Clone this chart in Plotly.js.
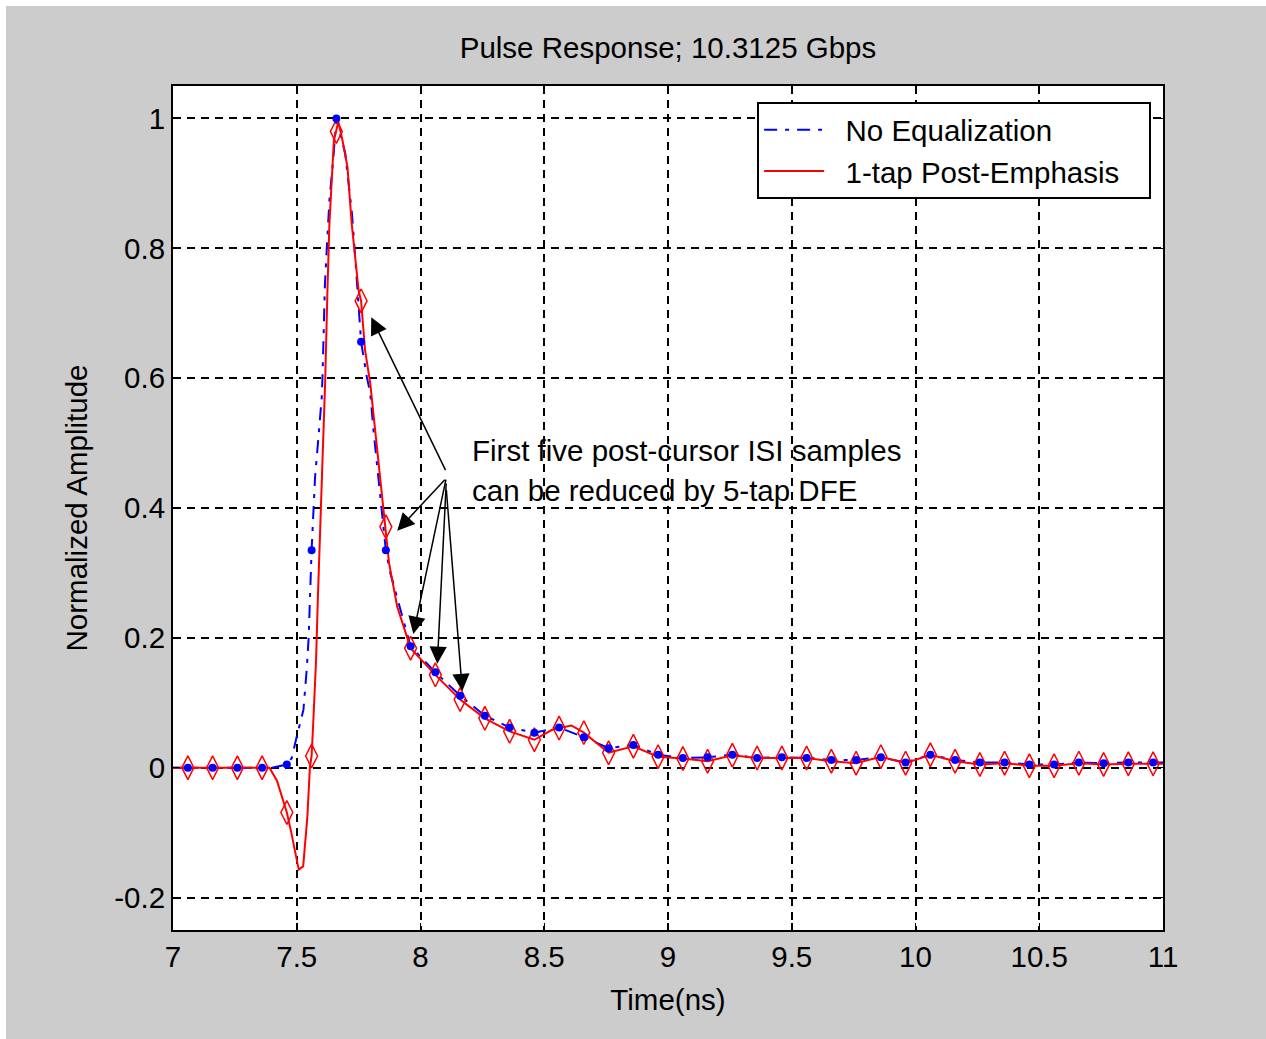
<!DOCTYPE html>
<html>
<head>
<meta charset="utf-8">
<script src="https://cdn.plot.ly/plotly-3.0.1.min.js"></script>
<style>
  html, body { margin: 0; padding: 0; background: #ffffff; }
  #chart { position: absolute; left: 6px; top: 6px; width: 1260px; height: 1033px; }
</style>
</head>
<body>
<div id="chart"></div>
<script>
// ---- Data ----
// Sample instants (ns), one per bit
var sampleTimes = [7.06,7.16,7.26,7.36,7.46,7.56,7.66,7.76,7.86,7.96,
                   8.06,8.16,8.26,8.36,8.46,8.56,8.66,8.76,8.86,8.96,
                   9.06,9.16,9.26,9.36,9.46,9.56,9.66,9.76,9.86,9.96,
                   10.06,10.16,10.26,10.36,10.46,10.56,10.66,10.76,10.86,10.96];
// No Equalization: sampled amplitudes (blue dots)
var noEqSamples = [0.0,0.0,0.0,0.0,0.005,0.335,1.0,0.656,0.335,0.187,
                   0.147,0.111,0.080,0.062,0.054,0.062,0.047,0.030,0.035,0.020,
                   0.015,0.016,0.020,0.015,0.016,0.015,0.012,0.012,0.016,0.008,
                   0.020,0.012,0.008,0.008,0.005,0.005,0.008,0.007,0.008,0.008];
// 1-tap Post-Emphasis: sampled amplitudes (red diamonds)
var postEmpSamples = [0.0,0.0,0.0,0.0,-0.069,0.018,0.980,0.719,0.371,0.184,
                      0.143,0.105,0.076,0.056,0.043,0.061,0.054,0.023,0.033,0.017,
                      0.014,0.010,0.019,0.015,0.015,0.015,0.010,0.007,0.017,0.007,
                      0.020,0.010,0.005,0.007,0.003,0.003,0.007,0.005,0.006,0.006];

// Continuous waveforms
var noEqTime = [7.00,7.40,7.46,7.48,7.50,7.527,7.54,7.548,7.56,7.574,7.588,7.601,7.604,7.608,7.614,7.621,7.632,7.648,7.66,
                7.696,7.723,7.736,7.75,7.76,7.783,7.797,7.81,7.83,7.86,7.878,7.96,
                8.06,8.16,8.26,8.36,8.46,8.56,8.66,8.76,8.86,8.96,
                9.06,9.16,9.26,9.36,9.46,9.56,9.66,9.76,9.86,9.96,
                10.06,10.16,10.26,10.36,10.46,10.56,10.66,10.76,10.86,10.96,11.00];
var noEqWave = [0.0,0.0,0.005,0.015,0.048,0.089,0.15,0.20,0.335,0.448,0.51,0.571,0.602,0.674,0.746,0.797,0.874,0.94,1.0,
                0.946,0.854,0.787,0.715,0.656,0.602,0.577,0.52,0.448,0.335,0.30,0.187,
                0.147,0.111,0.080,0.062,0.054,0.062,0.047,0.030,0.035,0.020,
                0.015,0.016,0.020,0.015,0.016,0.015,0.012,0.012,0.016,0.008,
                0.020,0.012,0.008,0.008,0.005,0.005,0.008,0.007,0.008,0.008,0.008];

var postEmpTime = [7.00,7.39,7.42,7.445,7.46,7.478,7.495,7.508,7.526,7.543,7.553,7.56,7.566,7.578,7.585,7.598,7.61,7.615,7.624,7.632,7.65,7.66,7.668,
                   7.685,7.705,7.722,7.74,7.75,7.76,7.776,7.797,7.837,7.86,7.873,7.906,7.96,
                   8.06,8.16,8.26,8.36,8.46,8.53,8.56,8.61,8.66,8.76,8.86,8.96,
                   9.06,9.16,9.26,9.36,9.46,9.56,9.66,9.76,9.86,9.96,
                   10.06,10.16,10.26,10.36,10.46,10.56,10.66,10.76,10.86,10.96,11.00];
var postEmpWave = [0.0,0.0,-0.02,-0.05,-0.069,-0.10,-0.132,-0.157,-0.152,-0.075,0.0,0.018,0.064,0.166,0.258,0.40,0.52,0.597,0.735,0.838,0.966,0.98,0.995,
                   0.966,0.925,0.838,0.771,0.735,0.719,0.643,0.592,0.448,0.371,0.315,0.248,0.184,
                   0.143,0.105,0.076,0.056,0.043,0.058,0.061,0.065,0.054,0.023,0.033,0.017,
                   0.014,0.010,0.019,0.015,0.015,0.015,0.010,0.007,0.017,0.007,
                   0.020,0.010,0.005,0.007,0.003,0.003,0.007,0.005,0.006,0.006,0.006];

// Axis ticks
var xTickVals = [7,7.5,8,8.5,9,9.5,10,10.5,11];
var xTickText = ["7","7.5","8","8.5","9","9.5","10","10.5","11"];
var yTickVals = [-0.2,0,0.2,0.4,0.6,0.8,1];
var yTickText = ["-0.2","0","0.2","0.4","0.6","0.8","1"];

// Legend names
var seriesNames = ["\u00a0\u00a0No Equalization", "\u00a0\u00a01-tap Post-Emphasis\u00a0\u00a0\u00a0"];

// Annotation text and arrows (tips and tails, in data units)
var noteLines = ["First five post-cursor ISI samples", "can be reduced by 5-tap DFE"];
var arrowTipX  = [7.801, 7.906, 7.971, 8.068, 8.169];
var arrowTipY  = [0.694, 0.365, 0.206, 0.160, 0.118];
var arrowTailX = [8.104, 8.104, 8.104, 8.104, 8.104];
var arrowTailY = [0.456, 0.446, 0.446, 0.440, 0.430];

var FONT = '"Liberation Sans", Arial, Helvetica, sans-serif';
var FS = 29.5;

var traces = [
  { x: noEqTime, y: noEqWave, type: 'scatter', mode: 'lines', name: seriesNames[0],
    line: { color: '#0000ff', width: 2, dash: '13px,8px,4px,8px' } },
  { x: postEmpTime, y: postEmpWave, type: 'scatter', mode: 'lines', name: seriesNames[1],
    line: { color: '#ff0000', width: 2 } },
  { x: sampleTimes, y: postEmpSamples, type: 'scatter', mode: 'markers', showlegend: false,
    marker: { symbol: 'diamond-tall-open', size: 17, color: '#ff0000', line: { color: '#ff0000', width: 1.5 } } },
  { x: sampleTimes, y: noEqSamples, type: 'scatter', mode: 'markers', showlegend: false,
    marker: { symbol: 'circle', size: 8, color: '#0000ff' } }
];

var annotations = [];
for (var i = 0; i < arrowTipX.length; i++) {
  annotations.push({
    x: arrowTipX[i], y: arrowTipY[i], xref: 'x', yref: 'y',
    ax: arrowTailX[i], ay: arrowTailY[i], axref: 'x', ayref: 'y',
    text: '', showarrow: true, arrowhead: 2, arrowsize: 2.3, arrowwidth: 1.5,
    arrowcolor: '#000000', standoff: 0, startstandoff: 0
  });
}
annotations.push({ x: 8.200, y: 0.488, xref: 'x', yref: 'y', text: noteLines[0], showarrow: false,
  xanchor: 'left', yanchor: 'middle', align: 'left', font: { family: FONT, size: FS, color: '#000' } });
annotations.push({ x: 8.200, y: 0.427, xref: 'x', yref: 'y', text: noteLines[1], showarrow: false,
  xanchor: 'left', yanchor: 'middle', align: 'left', font: { family: FONT, size: FS, color: '#000' } });

var axisCommon = {
  showline: true, linecolor: '#000', linewidth: 2, mirror: 'ticks',
  ticks: 'inside', ticklen: 7, tickwidth: 1.5, tickcolor: '#000',
  showgrid: true, gridcolor: '#000', gridwidth: 2, griddash: '8px,6px',
  zeroline: false, tickfont: { family: FONT, size: FS, color: '#000' }
};

var layout = {
  width: 1260, height: 1033,
  paper_bgcolor: '#cccccc', plot_bgcolor: '#ffffff',
  margin: { l: 167, r: 103, t: 80, b: 109 },
  font: { family: FONT, color: '#000' },
  title: { text: 'Pulse Response; 10.3125 Gbps', font: { family: FONT, size: FS, color: '#000' },
           x: 0.5, xref: 'paper', xanchor: 'center', y: 1 - 42 / 1033, yref: 'container', yanchor: 'middle' },
  xaxis: Object.assign({}, axisCommon, {
    range: [7, 11], tickvals: xTickVals, ticktext: xTickText,
    title: { text: 'Time(ns)', font: { family: FONT, size: FS, color: '#000' }, standoff: 17 }
  }),
  yaxis: Object.assign({}, axisCommon, {
    range: [-0.25, 1.05], tickvals: yTickVals, ticktext: yTickText,
    title: { text: 'Normalized Amplitude', font: { family: FONT, size: FS, color: '#000' }, standoff: 18 }
  }),
  legend: {
    x: 0.590, y: 0.981, xanchor: 'left', yanchor: 'top',
    bgcolor: '#ffffff', bordercolor: '#000', borderwidth: 2,
    font: { family: FONT, size: FS, color: '#000' }, itemwidth: 60, tracegroupgap: 0
  },
  annotations: annotations,
  showlegend: true
};

Plotly.newPlot('chart', traces, layout, { displayModeBar: false, staticPlot: true });
</script>
</body>
</html>
